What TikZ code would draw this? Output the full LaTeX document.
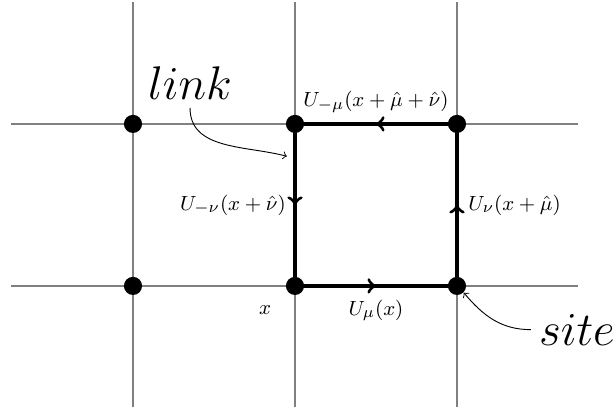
\documentclass[tikz,border=0pt]{standalone}
\usepackage{amsmath,amssymb}
\usepackage{tikz}
\usetikzlibrary{arrows.meta,positioning,decorations.markings}

\begin{document}
\begin{tikzpicture}[
  x=2.5cm, y=2.5cm,
  font=\fontsize{9.5}{11}\selectfont,
  grid/.style={draw=gray, line width=0.7pt},
  site/.style={circle, fill=black, inner sep=0pt, minimum size=2.8mm},
  linkline/.style={line width=1.4pt, postaction={decorate},
    decoration={markings, mark=at position 0.5 with {\arrow{>}}}},
  pointer/.style={->, line width=0.4pt},
  >=to]
\useasboundingbox (-1.821,-0.765) rectangle (1.963,1.765);
% lattice
\foreach \i in {-1,0,1} \draw[grid] (\i,-0.75) -- (\i,1.75);
\foreach \j in {0,1} \draw[grid] (-1.75,\j) -- (1.75,\j);
% plaquette links
\coordinate (x) at (0,0);
\coordinate (xm) at (1,0);
\coordinate (xmn) at (1,1);
\coordinate (xn) at (0,1);
\draw[linkline] (x) -- (xm) node[midway, below=2pt] {$U_{\mu}(x)$};
\draw[linkline] (xm) -- (xmn) node[midway, right=1pt] {$U_{\nu}(x+\hat{\mu})$};
\draw[linkline] (xmn) -- (xn) node[midway, above=1pt] {$U_{-\mu}(x+\hat{\mu}+\hat{\nu})$};
\draw[linkline] (xn) -- (x) node[midway, left=0pt] {$U_{-\nu}(x+\hat{\nu})$};
% sites
\node[site] (s1) at (-1,0) {};
\node[site] (s2) at (0,0) {};
\node[site] (s3) at (1,0) {};
\node[site] (s4) at (-1,1) {};
\node[site] (s5) at (0,1) {};
\node[site] (s6) at (1,1) {};
\node[below left=2pt and 4pt of s2] (xlab) {$x$};
% annotations
\node (linklab) at (-0.648,1.25) {\huge $link$};
\node (sitelab) at (1.74,-0.27) {\huge $site$};
\coordinate (linktip) at (-0.05,0.80);
\draw[pointer] (linklab.south) to[out=-90,in=165] (linktip);
\draw[pointer] (sitelab.west) to[out=180,in=-50] (s3.south east);
\end{tikzpicture}
\end{document}
